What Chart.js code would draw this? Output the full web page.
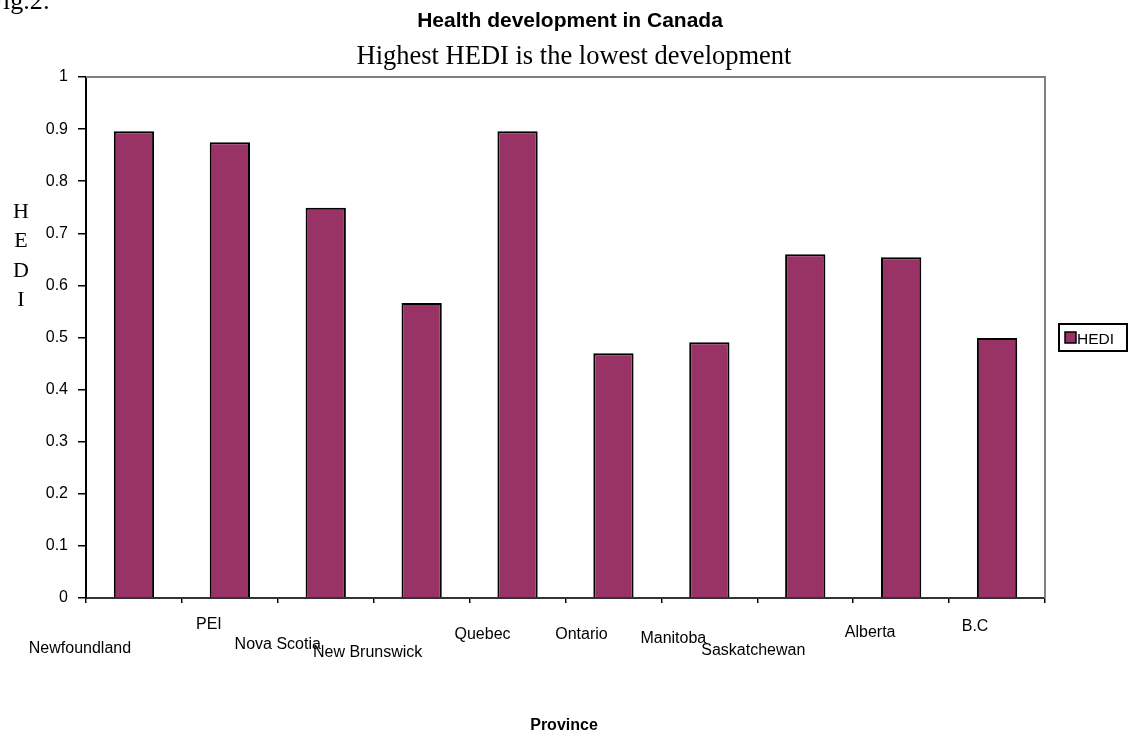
<!DOCTYPE html>
<html lang="en">
<head>
    <meta charset="UTF-8">
    <title>Health development in Canada</title>
    <script src="https://cdn.jsdelivr.net/npm/chart.js"></script>
    <style>
        html, body { margin: 0; padding: 0; background: #fff; }
        #wrap { width: 1130px; height: 738px; }
    </style>
</head>
<body>
<div id="wrap"><canvas id="hediChart"></canvas></div>
<script>
    // provinces and their HEDI values
    const provinces = ['Newfoundland', 'PEI', 'Nova Scotia', 'New Brunswick', 'Quebec',
                       'Ontario', 'Manitoba', 'Saskatchewan', 'Alberta', 'B.C'];
    const hedi = [0.896, 0.875, 0.749, 0.566, 0.896, 0.470, 0.491, 0.660, 0.654, 0.499];
    const yTicks = [0, 0.1, 0.2, 0.3, 0.4, 0.5, 0.6, 0.7, 0.8, 0.9, 1];

    // staggered placement of the province names under the axis (dx from category centre, y)
    const labelPlace = [[-54, 649], [-21, 625], [-48, 645], [-54, 653], [-35, 635],
                        [-32, 635], [-36, 639], [-52, 651], [-31, 633], [-22, 627]];

    const SANS = '"Liberation Sans", Arial, sans-serif';
    const SERIF = '"Liberation Serif", "Times New Roman", serif';

    // texts, frame, legend and province names
    const decorations = {
        id: 'decorations',
        afterDraw(chart) {
            const ctx = chart.ctx;
            const area = chart.chartArea;
            const xScale = chart.scales.x;
            ctx.save();

            // grey frame on top and right
            ctx.strokeStyle = '#808080';
            ctx.lineWidth = 2;
            ctx.beginPath();
            ctx.moveTo(area.left, area.top);
            ctx.lineTo(area.right, area.top);
            ctx.lineTo(area.right, area.bottom);
            ctx.stroke();

            ctx.fillStyle = '#000';
            ctx.textBaseline = 'alphabetic';
            ctx.font = '26px ' + SERIF;
            ctx.textAlign = 'right';
            ctx.fillText('Fig.2:', 50, 9);

            ctx.textAlign = 'center';
            ctx.font = 'bold 21px ' + SANS;
            ctx.fillText('Health development in Canada', 570, 27);
            ctx.font = '26.5px ' + SERIF;
            ctx.fillText('Highest HEDI is the lowest development', 574, 64);
            ctx.font = 'bold 16px ' + SANS;
            ctx.fillText('Province', 564, 730);

            // vertical axis title, one letter per line
            ctx.font = '22px ' + SERIF;
            ctx.textBaseline = 'middle';
            'HEDI'.split('').forEach((ch, i) => ctx.fillText(ch, 21, 212 + i * 29.5));

            // province names
            ctx.font = '16px ' + SANS;
            provinces.forEach((name, i) => {
                const cx = xScale.getPixelForValue(i) + labelPlace[i][0];
                ctx.fillText(name, cx, labelPlace[i][1]);
            });

            // legend
            const ds = chart.data.datasets[0];
            ctx.strokeStyle = '#000';
            ctx.lineWidth = 2;
            ctx.strokeRect(1059, 324, 68, 27);
            ctx.fillStyle = ds.backgroundColor;
            ctx.fillRect(1065, 332, 11, 11);
            ctx.lineWidth = 1.5;
            ctx.strokeRect(1065, 332, 11, 11);
            ctx.fillStyle = '#000';
            ctx.textAlign = 'left';
            ctx.font = '15.5px ' + SANS;
            ctx.fillText(ds.label, 1077, 340);
            ctx.restore();
        }
    };

    new Chart(document.getElementById('hediChart'), {
        type: 'bar',
        data: {
            labels: provinces,
            datasets: [{
                label: 'HEDI',
                data: hedi,
                backgroundColor: '#993366',
                borderColor: '#000',
                borderWidth: 2,
                barPercentage: 0.42,
                categoryPercentage: 1
            }]
        },
        options: {
            responsive: true,
            maintainAspectRatio: false,
            animation: false,
            layout: { padding: { top: 77, right: 85, bottom: 0, left: 0 } },
            plugins: {
                legend: { display: false },
                title: { display: false },
                tooltip: { enabled: false }
            },
            scales: {
                x: {
                    offset: true,
                    grid: { offset: true, drawOnChartArea: false, tickLength: 5, color: '#000', lineWidth: 1.5 },
                    border: { display: true, color: '#333', width: 2 },
                    ticks: { display: false },
                    afterFit(scale) { scale.height = 140; }
                },
                y: {
                    min: 0,
                    max: 1,
                    afterBuildTicks(scale) { scale.ticks = yTicks.map(v => ({ value: v })); },
                    grid: { drawOnChartArea: false, tickLength: 8, color: '#000', lineWidth: 1.5 },
                    border: { display: true, color: '#000', width: 2 },
                    ticks: {
                        color: '#000',
                        padding: 10,
                        font: { family: SANS, size: 16 },
                        callback: v => String(+v.toFixed(1))
                    },
                    afterFit(scale) { scale.width = 86; }
                }
            }
        },
        plugins: [decorations]
    });
</script>
</body>
</html>
